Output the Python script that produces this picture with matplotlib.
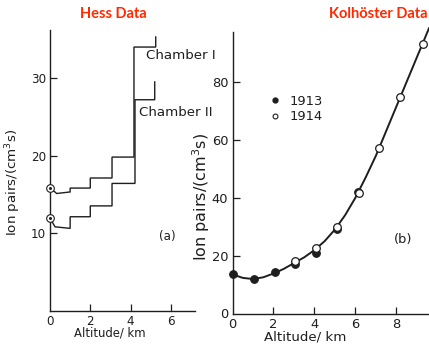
import matplotlib
matplotlib.use("Agg")
import matplotlib.pyplot as plt
from matplotlib.lines import Line2D

# ---------------- data ----------------
# Hess data (left panel): step traces, altitude (km) vs ion pairs/(cm^3 s)
ch1_alt = [0.0, 0.33, 1.0, 1.0, 2.0, 2.0, 3.08, 3.08, 4.17, 4.17, 5.25, 5.25]
ch1_ion = [15.85, 15.1, 15.3, 15.8, 15.8, 17.1, 17.1, 19.8, 19.8, 34.0, 34.0, 35.3]
ch2_alt = [0.0, 0.25, 1.0, 1.0, 2.0, 2.0, 3.08, 3.08, 4.22, 4.22, 5.2, 5.2]
ch2_ion = [11.9, 10.8, 10.6, 12.1, 12.1, 13.5, 13.5, 16.4, 16.4, 27.2, 27.2, 29.5]
hess_start_alt = [0.0, 0.0]
hess_start_ion = [15.85, 11.9]

# Kolhoerster data (right panel)
k1913_alt = [0.0, 1.05, 2.07, 3.05, 4.07, 5.08, 6.11]
k1913_ion = [13.5, 11.9, 14.4, 17.0, 21.0, 29.1, 42.1]
k1914_alt = [3.05, 4.07, 5.08, 6.19, 7.15, 8.17, 9.28]
k1914_ion = [18.2, 22.5, 30.0, 41.7, 57.1, 74.6, 93.0]
curve_alt = [0.0, 0.5, 1.0, 1.5, 2.0, 2.5, 3.0, 3.5, 4.0, 4.5, 5.0, 5.5,
             6.0, 6.5, 7.0, 7.5, 8.0, 8.5, 9.0, 9.59]
curve_ion = [13.5, 12.3, 11.9, 12.5, 13.8, 15.4, 17.4, 19.4, 21.9, 25.0, 29.0, 34.0,
             40.0, 47.0, 54.5, 63.0, 71.5, 80.0, 88.5, 98.5]

left_xticks = [2, 4, 6]
left_xticklabels = ["2", "4", "6"]
left_yticks = [10, 20, 30]
right_xticks = [2, 4, 6, 8]
right_yticks = [20, 40, 60, 80]
legend_labels = ["1913", "1914"]

# ---------------- style ----------------
INK = "#1e1e1e"
RED = "#ff2a00"
FS = 8.6
FSR = 9.4
plt.rcParams["font.family"] = ["DejaVu Sans"]
plt.rcParams["mathtext.fontset"] = "dejavusans"

W, H = 429, 344
fig = plt.figure(figsize=(W / 100, H / 100), dpi=100)
fig.patch.set_facecolor("white")

def px_axes(x0, x1, y_top, y_bot):
    return fig.add_axes([x0 / W, 1 - y_bot / H, (x1 - x0) / W, (y_bot - y_top) / H])

def style(ax, fs):
    for s in ("top", "right"):
        ax.spines[s].set_visible(False)
    for s in ("left", "bottom"):
        ax.spines[s].set_color(INK)
        ax.spines[s].set_linewidth(1.0)
    ax.tick_params(direction="in", length=5, width=0.9, colors=INK,
                   labelsize=fs, pad=3)
    ax.set_facecolor("none")

# ---------------- left panel ----------------
axL = px_axes(50, 195, 30, 310.5)
style(axL, FS)
axL.set_xlim(0, 7.2)
axL.set_ylim(0, 36.2)
axL.set_xticks([0] + left_xticks)
axL.set_xticklabels(["0"] + left_xticklabels)
axL.set_yticks(left_yticks)
axL.xaxis.get_major_ticks()[0].tick1line.set_visible(False)
axL.plot(ch1_alt, ch1_ion, color=INK, lw=1.0, solid_joinstyle="miter")
axL.plot(ch2_alt, ch2_ion, color=INK, lw=1.0, solid_joinstyle="miter")
axL.plot(hess_start_alt, hess_start_ion, ls="none", marker="o", ms=5.5,
         mfc="white", mec=INK, mew=0.8, clip_on=False, zorder=5)
axL.plot(hess_start_alt, hess_start_ion, ls="none", marker="o", ms=1.2,
         mfc=INK, mec=INK, clip_on=False, zorder=6)
axL.set_ylabel(r"Ion pairs/(cm$^3$s)", fontsize=9.6, color=INK)
axL.yaxis.set_label_coords((23 - 50) / 145, (310.5 - 182) / 280.5)
axL.set_xlabel("Altitude/ km", fontsize=8.4, color=INK)
axL.xaxis.set_label_coords((110 - 50) / 145, (310.5 - 327) / 280.5)
axL.text(5.85, 9.6, "(a)", fontsize=FS, color=INK, ha="center", va="center")
axL.text(4.75, 32.9, "Chamber I", fontsize=9.6, color=INK, ha="left",
         va="center", clip_on=False)
axL.text(4.4, 25.6, "Chamber II", fontsize=9.6, color=INK, ha="left",
         va="center", clip_on=False)

# ---------------- right panel ----------------
axR = px_axes(232.5, 429, 31.7, 313.5)
style(axR, FSR)
axR.set_xlim(0, 9.59)
axR.set_ylim(0, 97.3)
axR.set_xticks([0] + right_xticks)
axR.set_yticks([0] + right_yticks)
axR.xaxis.get_major_ticks()[0].tick1line.set_visible(False)
axR.yaxis.get_major_ticks()[0].tick1line.set_visible(False)
axR.plot(curve_alt, curve_ion, color=INK, lw=1.4, clip_on=False)
axR.plot(k1913_alt, k1913_ion, ls="none", marker="o", ms=5.5, mfc=INK,
         mec=INK, mew=0.8, clip_on=False, zorder=4)
axR.plot(k1914_alt, k1914_ion, ls="none", marker="o", ms=5.5, mfc="white",
         mec=INK, mew=0.9, clip_on=False, zorder=5)
axR.set_ylabel(r"Ion pairs/(cm$^3$s)", fontsize=11.5, color=INK)
axR.yaxis.set_label_coords((212 - 232.5) / 196.5, (313.5 - 197) / 281.8)
axR.set_xlabel("Altitude/ km", fontsize=9.6, color=INK)
axR.xaxis.set_label_coords((305 - 232.5) / 196.5, (313.5 - 330) / 281.8)
axR.text(8.35, 25.5, "(b)", fontsize=FSR, color=INK, ha="center", va="center")
handles = [
    Line2D([], [], ls="none", marker="o", ms=3.5, mfc=INK, mec=INK),
    Line2D([], [], ls="none", marker="o", ms=3.5, mfc="white", mec=INK, mew=0.8),
]
axR.legend(handles, legend_labels, loc="upper left", bbox_to_anchor=(0.15, 0.80),
           frameon=False, fontsize=FSR, handlelength=1.0, handletextpad=0.6,
           labelspacing=0.2, borderpad=0, labelcolor=INK)

# ---------------- titles ----------------
fig.text(113 / W, 1 - 14 / H, "Hess Data", color=RED, fontsize=10.5,
         fontweight="bold", family=["Lato", "DejaVu Sans"], ha="center", va="center")
fig.text(378 / W, 1 - 14 / H, "Kolhöster Data", color=RED, fontsize=10.5,
         fontweight="bold", family=["Lato", "DejaVu Sans"], ha="center", va="center")

fig.savefig("out.png", dpi=100)
